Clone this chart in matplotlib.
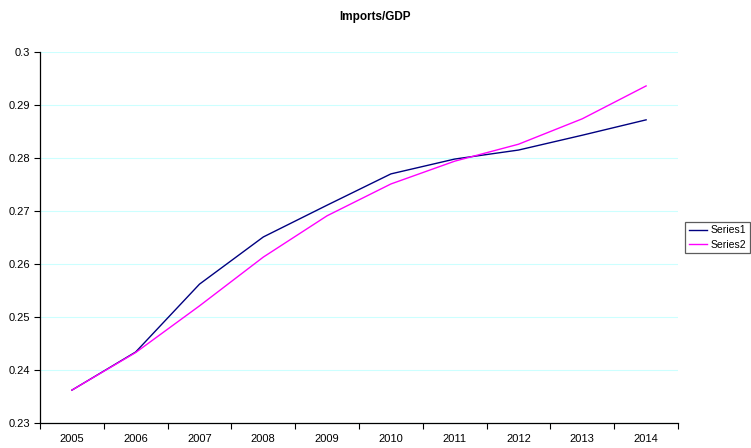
import matplotlib
matplotlib.use("Agg")
import matplotlib.pyplot as plt
from matplotlib.ticker import FixedLocator, NullFormatter

years = ["2005", "2006", "2007", "2008", "2009", "2010", "2011", "2012", "2013", "2014"]
series1 = [0.2362, 0.2434, 0.2562, 0.2651, 0.2711, 0.2770, 0.2798, 0.2815, 0.2843, 0.2872]
series2 = [0.2362, 0.2433, 0.2521, 0.2613, 0.2691, 0.2751, 0.2794, 0.2826, 0.2874, 0.2936]
yticks = [0.23, 0.24, 0.25, 0.26, 0.27, 0.28, 0.29, 0.3]
ytick_labels = ["0.23", "0.24", "0.25", "0.26", "0.27", "0.28", "0.29", "0.3"]

plt.rcParams['font.family'] = ['Liberation Sans', 'DejaVu Sans']

fig = plt.figure(figsize=(7.51, 4.48), dpi=100)
ax = fig.add_axes([40/751, 1-423/448, 638/751, (423-52)/448])

x = list(range(len(years)))
ax.plot(x, series1, color="#000080", lw=1.0, label="Series1")
ax.plot(x, series2, color="#FF00FF", lw=1.0, label="Series2")

ax.set_xlim(-0.5, len(years) - 0.5)
ax.set_ylim(0.23, 0.3)
ax.set_yticks(yticks)
ax.set_yticklabels(ytick_labels, fontsize=8)
ax.set_xticks(x)
ax.set_xticklabels(years, fontsize=8)
ax.tick_params(axis='x', which='major', length=0, pad=8)
ax.xaxis.set_minor_locator(FixedLocator([i - 0.5 for i in range(len(years) + 1)]))
ax.xaxis.set_minor_formatter(NullFormatter())
ax.tick_params(axis='x', which='minor', length=4, direction='out', width=0.8)
ax.tick_params(axis='y', length=4, direction='out', width=0.8, pad=3)

ax.grid(axis='y', color="#CCFFFF", lw=0.8)
ax.set_axisbelow(True)
for s in ["top", "right"]:
    ax.spines[s].set_visible(False)
for s in ["left", "bottom"]:
    ax.spines[s].set_color("black")
    ax.spines[s].set_linewidth(0.9)

fig.text(0.5, 1 - 17/448, "Imports/GDP", ha="center", va="center", fontsize=8.5, fontweight="bold")

leg = fig.legend(loc="center right", bbox_to_anchor=(749.5/751, 1 - 237.5/448), fontsize=7.5,
                 frameon=True, fancybox=False, edgecolor="#333333", handlelength=1.7,
                 handletextpad=0.35, borderpad=0.35, labelspacing=0.45, borderaxespad=0)
leg.get_frame().set_linewidth(0.9)

fig.savefig("out.png", dpi=100)
